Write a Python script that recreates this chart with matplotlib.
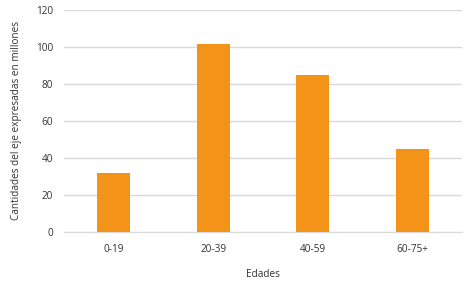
import matplotlib
matplotlib.use("Agg")
import matplotlib.pyplot as plt

categories = ["0-19", "20-39", "40-59", "60-75+"]
values = [32, 101.5, 85, 45]
yticks = [0, 20, 40, 60, 80, 100, 120]

plt.rcParams['font.family'] = ['Open Sans', 'DejaVu Sans']

fig = plt.figure(figsize=(4.72, 2.83), dpi=100)
W, H = 472, 283
ax = fig.add_axes([64 / W, 1 - 232 / H, (462 - 64) / W, (232 - 10) / H])

x = range(len(categories))
ax.bar(x, values, width=0.33, color="#F39419", zorder=3)
ax.set_xlim(-0.5, len(categories) - 0.5)
ax.set_ylim(0, 120)
ax.set_yticks(yticks)
ax.set_xticks(list(x))
ax.set_xticklabels(categories)
ax.grid(axis="y", color="#D9D9D9", linewidth=1, zorder=0)
for s in ["top", "right", "left"]:
    ax.spines[s].set_visible(False)
ax.spines["bottom"].set_color("#D9D9D9")
ax.tick_params(axis="both", length=0, labelsize=7.2, colors="#333333", pad=8)
ax.tick_params(axis="x", pad=9)
ax.set_xlabel("Edades", fontsize=7.2, color="#333333", labelpad=10)
ax.set_ylabel("Cantidades del eje expresadas en millones", fontsize=7.2, color="#333333", labelpad=10)

fig.savefig("out.png", dpi=100)
